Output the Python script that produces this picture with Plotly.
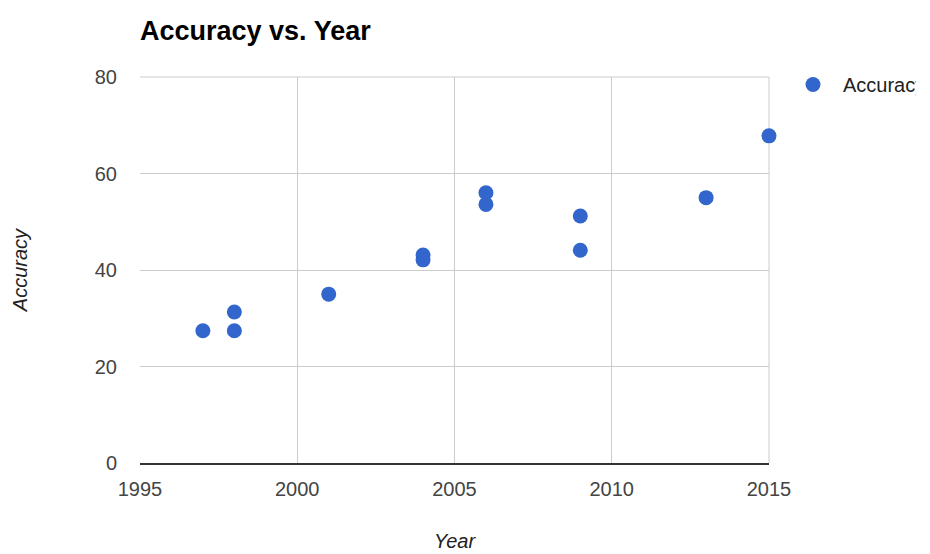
import plotly.graph_objects as go

# Accuracy by publication year
years = [1997, 1998, 1998, 2001, 2004, 2004, 2006, 2006, 2009, 2009, 2013, 2015]
accuracy = [27.4, 31.3, 27.4, 35.0, 43.1, 42.1, 56.0, 53.6, 51.2, 44.1, 55.0, 67.8]

x_ticks = [1995, 2000, 2005, 2010, 2015]
y_ticks = [0, 20, 40, 60, 80]

FONT = "Arial, Liberation Sans, Helvetica, sans-serif"
W, H = 916, 554
L, R, T, B = 140, W - 769, 77, H - 463
PW, PH = W - L - R, H - T - B

fig = go.Figure()
fig.add_trace(go.Scatter(
    x=years, y=accuracy, mode="markers", name="Accuracy",
    marker=dict(color="#3366cc", size=15, line=dict(width=0)),
    cliponaxis=False,
))

fig.update_layout(
    width=W, height=H,
    margin=dict(l=L, r=R, t=T, b=B, autoexpand=False),
    paper_bgcolor="white", plot_bgcolor="white",
    font=dict(family=FONT, size=20, color="#444"),
    title=dict(
        text="<b>Accuracy vs. Year</b>",
        font=dict(family=FONT, size=27, color="#000"),
        x=0, xanchor="left", xref="paper",
        y=1 - 31 / H, yanchor="middle", yref="container",
    ),
    showlegend=True,
    legend=dict(
        x=(783 - L) / PW, xanchor="left",
        y=1 + (T - 65) / PH, yanchor="top",
        itemwidth=50,
        font=dict(family=FONT, size=20, color="#222"),
        bgcolor="rgba(0,0,0,0)",
    ),
    xaxis=dict(
        range=[1995, 2015], tickvals=x_ticks, ticktext=[str(v) for v in x_ticks],
        showgrid=True, gridcolor="#cccccc", gridwidth=1,
        zeroline=False, showline=True, linecolor="#333333", linewidth=2,
        ticks="", ticklabelstandoff=7,
        title=dict(text="<i>Year</i>", font=dict(family=FONT, size=20, color="#222"),
                   standoff=35),
        tickfont=dict(size=20, color="#444"),
    ),
    yaxis=dict(
        range=[0, 80], tickvals=y_ticks,
        showgrid=True, gridcolor="#cccccc", gridwidth=1,
        zeroline=False, showline=False,
        ticks="", ticklabelstandoff=22,
        title=dict(text="<i>Accuracy</i>", font=dict(family=FONT, size=20, color="#222"),
                   standoff=61),
        tickfont=dict(size=20, color="#444"),
    ),
)

# right and top plot edges drawn like the gridlines
fig.add_shape(type="line", xref="paper", yref="paper", x0=1, x1=1, y0=0, y1=1,
              line=dict(color="#cccccc", width=1), layer="below")
fig.add_shape(type="line", xref="paper", yref="paper", x0=0, x1=1, y0=1, y1=1,
              line=dict(color="#cccccc", width=1), layer="below")

fig.write_html("out.html")
